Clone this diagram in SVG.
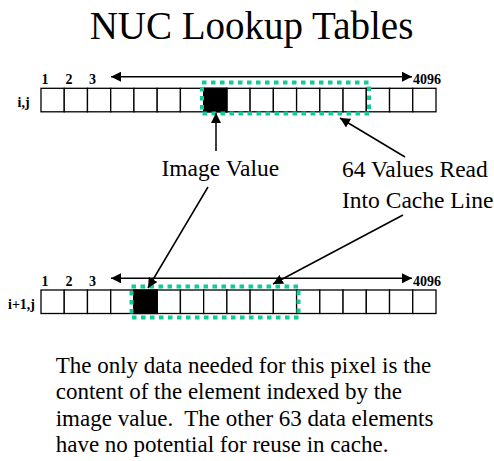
<svg xmlns="http://www.w3.org/2000/svg" width="494" height="461" viewBox="0 0 494 461">
<style>
.t{font-family:"Liberation Serif","Times New Roman",serif;fill:#000}
.title{font-size:39px}
.lbl{font-size:23.5px}
.para{font-size:23px}
.idx{font-size:14px;font-weight:bold}
.cell{fill:#fff;stroke:#000;stroke-width:1.3}
.blk{fill:#000;stroke:#000;stroke-width:1.3}
.cache{fill:none;stroke:#11cc99;stroke-width:4;stroke-dasharray:4.5 4.5}
.con{stroke:#000;stroke-width:1.5;fill:none}
</style>
<defs>
<marker id="ah" viewBox="0 0 10 10" refX="10" refY="5" markerWidth="10" markerHeight="10" markerUnits="userSpaceOnUse" orient="auto-start-reverse">
<path d="M0,0 L10,5 L0,10 z" fill="#000"/>
</marker>
<g id="cells">
<rect class="cell" x="41" y="0" width="23.24" height="23.5"/>
<rect class="cell" x="64.24" y="0" width="23.24" height="23.5"/>
<rect class="cell" x="87.47" y="0" width="23.24" height="23.5"/>
<rect class="cell" x="110.71" y="0" width="23.24" height="23.5"/>
<rect class="cell" x="133.94" y="0" width="23.24" height="23.5"/>
<rect class="cell" x="157.18" y="0" width="23.24" height="23.5"/>
<rect class="cell" x="180.41" y="0" width="23.24" height="23.5"/>
<rect class="cell" x="203.65" y="0" width="23.24" height="23.5"/>
<rect class="cell" x="226.88" y="0" width="23.24" height="23.5"/>
<rect class="cell" x="250.12" y="0" width="23.24" height="23.5"/>
<rect class="cell" x="273.35" y="0" width="23.24" height="23.5"/>
<rect class="cell" x="296.59" y="0" width="23.24" height="23.5"/>
<rect class="cell" x="319.82" y="0" width="23.24" height="23.5"/>
<rect class="cell" x="343.06" y="0" width="23.24" height="23.5"/>
<rect class="cell" x="366.29" y="0" width="23.24" height="23.5"/>
<rect class="cell" x="389.53" y="0" width="23.24" height="23.5"/>
<rect class="cell" x="412.76" y="0" width="23.24" height="23.5"/>
</g>
</defs>

<g id="title"><text class="t title" x="251.5" y="39" text-anchor="middle">NUC Lookup Tables</text></g>

<g id="row-ij">
<text class="t idx" x="17.5" y="107">i,j</text>
<text class="t idx" x="41.5" y="84">1</text>
<text class="t idx" x="65.5" y="84">2</text>
<text class="t idx" x="89" y="84">3</text>
<text class="t idx" x="413" y="84">4096</text>
<use href="#cells" y="88.3"/>
<rect class="blk" x="203.65" y="88.3" width="23.24" height="23.5"/>
<rect class="cache" x="202" y="82.5" width="167" height="31"/>
</g>

<g id="row-i1j">
<text class="t idx" x="8" y="309">i+1,j</text>
<text class="t idx" x="41.5" y="286">1</text>
<text class="t idx" x="65.5" y="286">2</text>
<text class="t idx" x="89" y="286">3</text>
<text class="t idx" x="413" y="286">4096</text>
<use href="#cells" y="290"/>
<rect class="blk" x="133.94" y="290" width="23.24" height="23.5"/>
<rect class="cache" x="131.5" y="286.5" width="167" height="31"/>
</g>

<g id="label-image-value"><text class="t lbl" x="161.5" y="176">Image Value</text></g>
<g id="label-64-values">
<text class="t lbl" x="342" y="177">64 Values Read</text>
<text class="t lbl" x="342" y="208">Into Cache Line</text>
</g>

<g id="note">
<text class="t para" x="55.7" y="372.5">The only data needed for this pixel is the</text>
<text class="t para" x="55.7" y="399">content of the element indexed by the</text>
<text class="t para" x="55.7" y="425.5">image value.&#160; The other 63 data elements</text>
<text class="t para" x="55.7" y="452">have no potential for reuse in cache.</text>
</g>

<g id="connectors">
<line class="con" x1="111" y1="76.7" x2="412" y2="76.7" marker-start="url(#ah)" marker-end="url(#ah)"/>
<line class="con" x1="111" y1="278.3" x2="412" y2="278.3" marker-start="url(#ah)" marker-end="url(#ah)"/>
<line class="con" x1="216" y1="151" x2="216" y2="113" marker-end="url(#ah)"/>
<line class="con" x1="405" y1="157" x2="340" y2="118" marker-end="url(#ah)"/>
<line class="con" x1="208" y1="187" x2="148" y2="288" marker-end="url(#ah)"/>
<line class="con" x1="403" y1="215" x2="273" y2="284" marker-end="url(#ah)"/>
</g>
</svg>
